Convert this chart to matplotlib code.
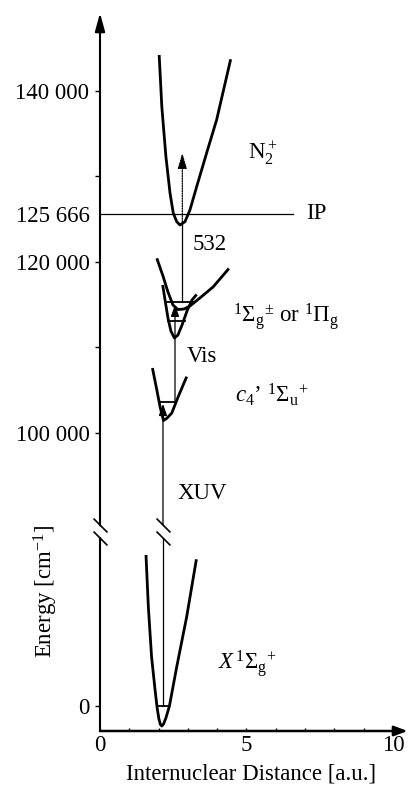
"""
Potential energy diagram of N2 with the XUV + Vis + 532 nm excitation scheme
"""

import numpy as np
import matplotlib
matplotlib.use('Agg')
import matplotlib.pyplot as plt

plt.rcParams['font.family'] = ['Liberation Serif', 'DejaVu Serif']
plt.rcParams['mathtext.fontset'] = 'custom'
plt.rcParams['mathtext.rm'] = 'Liberation Serif'
plt.rcParams['mathtext.it'] = 'Liberation Serif:italic'
plt.rcParams['mathtext.bf'] = 'Liberation Serif:bold'

# Potential curves (distance in a.u., energy in cm^-1)
x_ground = [1.57, 1.65, 1.76, 1.88, 1.95, 2.01, 2.06, 2.11, 2.17, 2.25, 2.37, 2.62, 2.96, 3.29]
e_ground = [17660, 11610, 5770, 1870, -200, -1500, -2150, -2340, -2100, -1400, 0, 4600, 10450, 17160]

x_c4 = [1.79, 1.94, 2.05, 2.11, 2.17, 2.29, 2.45, 2.67, 2.96]
e_c4 = [107600, 105030, 103080, 102220, 101460, 101750, 102330, 104250, 106590]

x_gerade_wide = [1.94, 2.15, 2.32, 2.49, 2.66, 2.87, 3.07, 3.41, 3.86, 4.40]
e_gerade_wide = [120430, 118360, 116490, 114970, 114440, 114500, 114850, 115790, 117080, 119240]

x_gerade_narrow = [2.14, 2.22, 2.32, 2.42, 2.54, 2.66, 2.80, 2.97, 3.14, 3.30]
e_gerade_narrow = [117310, 115560, 113450, 111930, 111110, 111460, 112630, 114270, 115560, 116200]

x_ion = [2.02, 2.11, 2.25, 2.39, 2.50, 2.62, 2.73, 2.90, 3.07, 3.30, 3.64, 3.98, 4.46]
e_ion = [144210, 138160, 132320, 128070, 125730, 124710, 124330, 124710, 126080, 128810, 132750, 136610, 143710]

# Vibrational levels drawn inside the wells
level_energy = [0, 103680, 113100, 115360]
level_x0 = [1.94, 2.00, 2.33, 2.24]
level_x1 = [2.37, 2.59, 2.89, 3.16]

# Ionisation potential
ip_energy = 125666
ip_x_end = 6.59

# Transitions: XUV, Vis, 532 nm
xuv_x, xuv_from, xuv_to = 2.15, 0, 103400
vis_x, vis_from, vis_to = 2.56, 103680, 115000
green_x, green_from, green_ion, green_to = 2.81, 115360, 124700, 132750

# Axis ticks
y_ticks = [0, 100000, 120000, 125666, 140000]
y_tick_labels = ['0', '100 000', '120 000', '125 666', '140 000']
y_minor_ticks = [110000, 130000]
x_ticks = [0, 5, 10]
x_minor_ticks = [1, 2, 3, 4, 6, 7, 8, 9]

# Broken energy axis: everything between these two energies is cut out
BREAK_LO = 20234
BREAK_HI = 88303
Y_MIN, Y_MAX = -2924, 149123
X_MAX = 10.5


def forward(e):
    """Map energy to the compressed (broken) axis."""
    e = np.asarray(e, dtype=float)
    return np.where(e > BREAK_HI, e - (BREAK_HI - BREAK_LO), np.minimum(e, BREAK_LO))


def inverse(y):
    """Map the compressed axis back to energy."""
    y = np.asarray(y, dtype=float)
    return np.where(y > BREAK_LO, y + (BREAK_HI - BREAK_LO), y)


W, H = 408, 785
fig = plt.figure(figsize=(W / 100, H / 100), dpi=100)
ax = fig.add_axes([100 / W, 54 / H, 307.6 / W, 718 / H])
ax.set_yscale('function', functions=(forward, inverse))
ax.set_xlim(0, X_MAX)
ax.set_ylim(Y_MIN, Y_MAX)

for side in ['left', 'right', 'top', 'bottom']:
    ax.spines[side].set_visible(False)

# Potential curves
curve_kw = dict(color='black', lw=2.0, solid_capstyle='butt', solid_joinstyle='round')
ax.plot(x_ground, e_ground, **curve_kw)
ax.plot(x_c4, e_c4, **curve_kw)
ax.plot(x_gerade_wide, e_gerade_wide, **curve_kw)
ax.plot(x_gerade_narrow, e_gerade_narrow, **curve_kw)
ax.plot(x_ion, e_ion, **curve_kw)

# Vibrational levels
for e, x0, x1 in zip(level_energy, level_x0, level_x1):
    ax.plot([x0, x1], [e, e], color='black', lw=1.3)

# Ionisation potential line
ax.plot([0, ip_x_end], [ip_energy, ip_energy], color='black', lw=0.9, clip_on=False)

# Energy offsets (in cm^-1) of the gap ends around the axis break
gap_low_end = BREAK_LO - 600
gap_high_end = BREAK_HI + 900
break_marker = [(-1, 1), (1, -1)]

# XUV transition (cut by the axis break as well)
ax.plot([xuv_x, xuv_x], [xuv_from, gap_low_end], color='black', lw=0.9)
ax.annotate('', xy=(xuv_x, xuv_to), xytext=(xuv_x, gap_high_end),
            arrowprops=dict(arrowstyle='-|>,head_length=0.7,head_width=0.25',
                            color='black', lw=0.9, shrinkA=0, shrinkB=0))

# Vis transition
ax.annotate('', xy=(vis_x, vis_to), xytext=(vis_x, vis_from),
            arrowprops=dict(arrowstyle='-|>,head_length=0.7,head_width=0.25',
                            color='black', lw=0.9, shrinkA=0, shrinkB=0))

# 532 nm transition: solid up to the ion, dotted into the continuum
ax.plot([green_x, green_x], [green_from, green_ion], color='black', lw=0.9)
ax.annotate('', xy=(green_x, green_to), xytext=(green_x, green_ion),
            arrowprops=dict(arrowstyle='-|>,head_length=0.95,head_width=0.28',
                            color='black', lw=0.9, linestyle=(0, (1, 1)),
                            shrinkA=0, shrinkB=0))

# Hand drawn axes with arrows and break
ax.plot([0, 0], [Y_MIN, gap_low_end], color='black', lw=1.5, clip_on=False)
ax.annotate('', xy=(0, Y_MAX), xytext=(0, gap_high_end), annotation_clip=False,
            arrowprops=dict(arrowstyle='-|>,head_length=1.1,head_width=0.3',
                            color='black', lw=1.5, shrinkA=0, shrinkB=0))
ax.annotate('', xy=(X_MAX, Y_MIN), xytext=(0, Y_MIN), annotation_clip=False,
            arrowprops=dict(arrowstyle='-|>,head_length=0.8,head_width=0.3',
                            color='black', lw=1.8, shrinkA=0, shrinkB=0))
for bx in [0, xuv_x]:
    ax.plot([bx, bx], [gap_low_end, gap_high_end], ls='none', marker=break_marker,
            ms=10, mew=1.2, color='black', clip_on=False)

# Ticks
ax.set_yticks(y_ticks, y_tick_labels)
ax.set_yticks(y_minor_ticks, minor=True)
ax.set_xticks(x_ticks, [str(t) for t in x_ticks])
ax.set_xticks(x_minor_ticks, minor=True)
ax.tick_params(axis='y', which='both', direction='out', length=3.6, width=1.0,
               pad=4, labelsize=16.5)
ax.tick_params(axis='x', which='both', direction='in', length=2.5, width=1.0,
               pad=3, labelsize=16.5)
ax.yaxis.get_major_ticks()[3].tick1line.set_visible(False)

# State labels
txt = dict(fontsize=16.5, va='center', ha='left')
ax.text(5.05, 132750, r'N$_2^+$', **txt)
ax.text(7.03, ip_energy, 'IP', **txt)
ax.text(3.17, 121990, '532', **txt)
ax.text(4.54, 113600, r'$^1\Sigma_{\rm g}{}^{\pm}$ or $^1\Pi_{\rm g}$', **txt)
ax.text(2.97, 109000, 'Vis', **txt)
ax.text(4.61, 104500, r'$c_4$’ $^1\Sigma_{\rm u}{}^{+}$', **txt)
ax.text(2.66, 92980, 'XUV', **txt)
ax.text(4.03, 5000, r'$X\,^1\Sigma_{\rm g}{}^{+}$', **txt)

# Axis titles
fig.text(251 / W, 1 - 774 / H, 'Internuclear Distance [a.u.]', fontsize=16.5,
         ha='center', va='center')
fig.text(46 / W, 1 - 592 / H, r'Energy [cm$^{-1}$]', fontsize=16.5,
         ha='center', va='center', rotation=90)

fig.savefig('out.png', dpi=100)
